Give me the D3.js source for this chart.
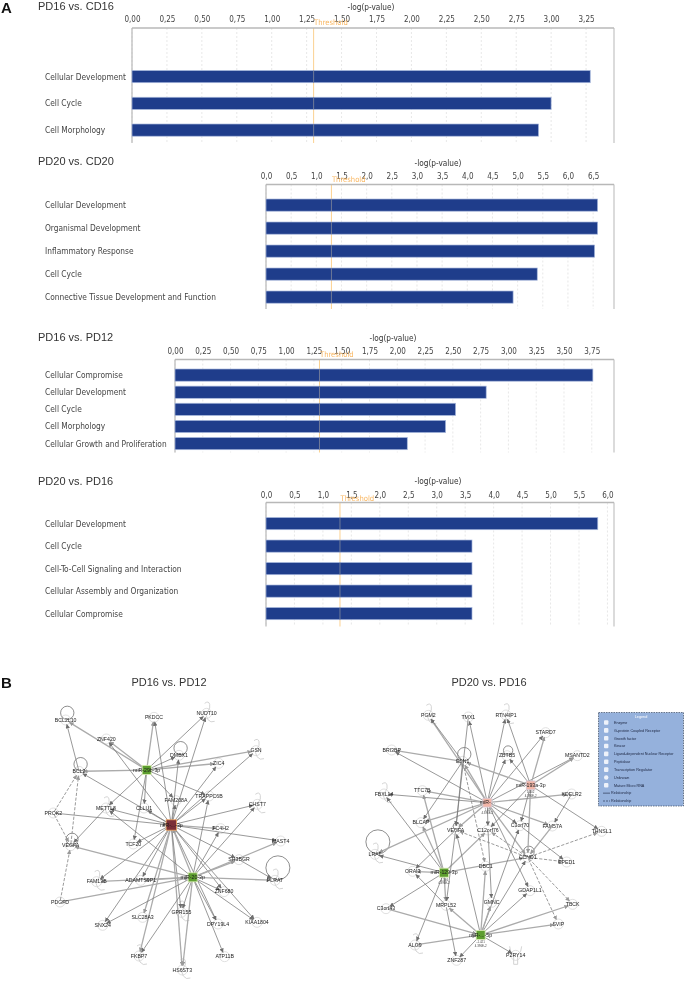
<!DOCTYPE html>
<html><head><meta charset="utf-8">
<script src="https://cdn.jsdelivr.net/npm/d3@7/dist/d3.min.js"></script>
<style>html,body{margin:0;padding:0;background:#fff}svg{display:block}text{font-family:"Liberation Sans",Arial,sans-serif}.tah{font-family:"DejaVu Sans Condensed","DejaVu Sans",sans-serif;font-stretch:condensed}</style>
</head><body><svg id="c" width="685" height="981"></svg>
<script>
// ---- bar chart data ----
const titles=["PD16 vs. CD16","PD20 vs. CD20","PD16 vs. PD12","PD20 vs. PD16"];
const cats1=["Cellular Development","Cell Cycle","Cell Morphology"];
const vals1=[3.28,3.0,2.91];
const cats2=["Cellular Development","Organismal Development","Inflammatory Response","Cell Cycle","Connective Tissue Development and Function"];
const vals2=[6.59,6.59,6.53,5.39,4.91];
const cats3=["Cellular Compromise","Cellular Development","Cell Cycle","Cell Morphology","Cellular Growth and Proliferation"];
const vals3=[3.76,2.80,2.525,2.435,2.09];
const cats4=["Cellular Development","Cell Cycle","Cell-To-Cell Signaling and Interaction","Cellular Assembly and Organization","Cellular Compromise"];
const vals4=[5.83,3.62,3.62,3.62,3.62];
const ticks1=d3.range(0,3.26,0.25), ticks2=d3.range(0,6.6,0.5), ticks3=d3.range(0,3.76,0.25), ticks4=d3.range(0,6.1,0.5);
const threshold=1.3;
// ---- network data (positions in traced layout units) ----
const net1Nodes=[["G1","miR-29b-3p",440,300,"g"],["R","miR-...-3p",514,465,"r"],["G2","miR-20-3p",578,622,"g"],
["BCL2L10","BCL2L10",197,150],["PKDCC","PKDCC",462,142],["NUDT10","NUDT10",620,130,"e"],["ZNF420","ZNF420",319,207],["DMBX1","DMBX1",537,256],["GSN","GSN",768,242,"e"],["ZIC4","ZIC4",656,280],["BCL2","BCL2",237,304],["FAM208A","FAM208A",528,392],["TRAPPC6B","TRAPPC6B",627,378],["METTL8","METTL8",318,414,"e"],["CLLU1","CLLU1",432,414],["PROK2","PROK2",160,429],["CHST7","CHST7",772,403,"e"],["PC4H2","FC4H2",662,476],["MAST4","MAST4",842,513],["TCF20","TCF20",400,522],["VEGFA","VEGFA",212,527],["SH3BGR","SH3BGR",717,569],["FAM13B","FAM13B",290,635,"e"],["ADAMTS","ADAMTS9P1",422,631],["PLRAT","PLRAT",825,631,"e"],["ZNF680","ZNF680",672,665],["PDGFD","PDGFD",180,696],["GPR155","GPR155",544,727,"e"],["SLC28A3","SLC28A3",428,742],["SNX24","SNX24",308,766],["DPY19L4","DPY19L4",654,762],["KIAA1804","KIAA1804",771,757],["FKBP7","FKBP7",417,858,"e"],["ATP11B","ATP11B",674,860],["HS6ST3","HS6ST3",547,900,"e"]];
const net1Solid=[["G1","BCL2L10",1],["G1","ZNF420",1],["G1","NUDT10",0],["G1","PKDCC",1],["G1","DMBX1",0],["G1","GSN",1],["G1","ZIC4",1],["G1","BCL2",1],["G1","FAM208A",0],["G1","TRAPPC6B",0],["G1","METTL8",0],["G1","CLLU1",0],["G1","TCF20",0],
["R","PKDCC",0],["R","ZNF420",0],["R","NUDT10",0],["R","FAM208A",0],["R","DMBX1",0],["R","ZIC4",0],["R","GSN",0],["R","TRAPPC6B",0],["R","CHST7",0],["R","PC4H2",1],["R","MAST4",0],["R","SH3BGR",0],["R","ZNF680",0],["R","KIAA1804",0],["R","DPY19L4",0],["R","HS6ST3",1],["R","GPR155",0],["R","SLC28A3",1],["R","SNX24",0],["R","FKBP7",1],["R","FAM13B",0],["R","ADAMTS",0],["R","TCF20",0],["R","CLLU1",0],["PROK2","R",0],["R","BCL2",0],["R","METTL8",0],
["G2","CHST7",0],["G2","PC4H2",0],["G2","MAST4",1],["G2","TRAPPC6B",0],["G2","VEGFA",1],["G2","METTL8",0],["PDGFD","G2",1],["G2","FAM13B",1],["G2","ADAMTS",1],["G2","PLRAT",1],["G2","SH3BGR",1],["G2","ZNF680",0],["G2","KIAA1804",0],["G2","ATP11B",0],["G2","DPY19L4",0],["G2","HS6ST3",1],["G2","GPR155",0],["G2","FKBP7",0],["G2","SNX24",0],["G2","R",1],["SH3BGR","PLRAT",0],
["BCL2","BCL2L10",0],["METTL8","VEGFA",0]];
const net1Dashed=[["PROK2","BCL2"],["PROK2","VEGFA"],["VEGFA","BCL2"],["PDGFD","VEGFA"]];
const net1Loops=[["BCL2L10",20],["DMBX1",20],["BCL2",20],["VEGFA",18],["PLRAT",36]];

const net2Nodes=[["P","miR-...",442,398,"p"],["Q","miR-193a-3p",572,346,"p"],["G3","miR-129-3p",312,608,"g"],["G4","miR-...-5p",422,795,"g"],
["PGM2","PGM2",265,136,"e"],["TMX1","TMX1",385,141],["RTN4IP1","RTN4IP1",498,135,"e"],["STARD7","STARD7",617,188],["BRI3BP","BRI3BP",155,240],["ESN1","ESN1",368,274],["ZBTB5","ZBTB5",501,257],["MSANTD2","MSANTD2",712,257],["KDELR2","KDELR2",695,372],["FBXL14","FBXL14",132,372,"e"],["TTC7B","TTC7B",247,362],["BLCAP","BLCAP",243,458],["VEGFA","VEGFA",347,480],["C12orf76","C12orf76",444,480],["C3orf70","C3orf70",540,467],["FAM57A","FAM57A",637,468],["THNSL1","THNSL1",785,484],["LRAT","LRAT",105,553,"e"],["CCND1","CCND1",563,562],["EPED1","EPED1",680,576],["ORAI3","ORAI3",218,604],["DBC1","DBC1",437,589],["GMNC","GMNC",455,697],["GDAP1L1","GDAP1L1",570,662],["TBCK","TBCK",698,703],["MRPL52","MRPL52",318,706],["C3orf43","C3orf43",138,716],["SVIP","SVIP",655,762],["ALG9","ALG9",225,825,"e"],["ZNF287","ZNF287",350,871],["P2RY14","P2RY14",527,856,"y"]];
const net2Solid=[["P","PGM2",1],["P","TMX1",0],["P","RTN4IP1",0],["P","STARD7",0],["P","BRI3BP",0],["P","ESN1",1],["P","ZBTB5",0],["P","MSANTD2",0],["P","KDELR2",1],["P","FBXL14",0],["P","TTC7B",1],["P","BLCAP",1],["P","VEGFA",1],["P","C12orf76",0],["P","C3orf70",0],["P","FAM57A",1],["P","LRAT",1],["P","CCND1",1],["P","GDAP1L1",0],
["Q","RTN4IP1",0],["Q","STARD7",1],["Q","ZBTB5",0],["Q","MSANTD2",1],["Q","ESN1",1],["Q","THNSL1",0],["Q","C12orf76",0],["Q","C3orf70",0],["Q","CCND1",1],
["G3","FBXL14",0],["G3","TTC7B",1],["G3","BLCAP",1],["G3","LRAT",0],["G3","ORAI3",1],["G3","C12orf76",1],["G3","C3orf43",0],["G3","ALG9",0],["G3","CCND1",1],["G3","MRPL52",1],
["G4","MRPL52",1],["G4","VEGFA",0],["G4","DBC1",1],["G4","C3orf70",0],["G4","GMNC",1],["G4","GDAP1L1",0],["G4","TBCK",1],["G4","SVIP",1],["C3orf43","G4",1],["ALG9","G4",1],["G4","ZNF287",0],["G4","P2RY14",0],["G4","CCND1",0],
["ESN1","PGM2",0],["ESN1","BRI3BP",1],["ESN1","VEGFA",0],["ESN1","BLCAP",0],["TMX1","VEGFA",0],["KDELR2","FAM57A",0],["VEGFA","ORAI3",0],["MRPL52","ORAI3",0],["MRPL52","ZNF287",0],["C12orf76","GMNC",0],["FAM57A","CCND1",1],["C3orf70","EPED1",0],["VEGFA","MRPL52",0]];
const net2Dashed=[["CCND1","THNSL1"],["CCND1","EPED1"],["CCND1","TBCK"],["CCND1","SVIP"],["ESN1","DBC1"],["CCND1","VEGFA"],["CCND1","C12orf76"]];
const net2Loops=[["ESN1",20],["ZBTB5",14],["LRAT",36],["CCND1",16],["VEGFA",10]];
const net2Notes=[["P","1.41","4.396E-2"],["Q","1.402","4.396E-2"],["G3","-1.346","4.396E-2"],["G4","-1.421","4.396E-2"]];
// ---- legend ----
const legendItems=["Enzyme","G-protein Coupled Receptor","Growth factor","Kinase","Ligand-dependent Nuclear Receptor","Peptidase","Transcription Regulator","Unknown","Mature Micro RNA","Relationship","Relationship"];

const svg=d3.select("#c");
const root=svg.append("g").attr("style","filter:blur(0.35px)");
root.append("text").attr("x",1).attr("y",12.5).attr("font-size",15).attr("font-weight",700).attr("fill","#111").text("A");
root.append("text").attr("x",1).attr("y",688).attr("font-size",15).attr("font-weight",700).attr("fill","#111").text("B");

function bar(o){
  const g=root.append("g");
  const x=d3.scaleLinear().domain([0,o.max]).range([o.x0,o.x1]);
  const y=d3.scalePoint().domain(o.cats).range([o.c0,o.c1]);
  g.selectAll(".gr").data(o.ticks).join("line").attr("x1",d=>x(d)).attr("x2",d=>x(d)).attr("y1",o.top).attr("y2",o.bottom).attr("stroke","#dcdcdc").attr("stroke-width",.7).attr("stroke-dasharray","2 2");
  g.append("line").attr("x1",o.x0).attr("x2",o.x0).attr("y1",o.top).attr("y2",o.bottom).attr("stroke","#bdbdbd").attr("stroke-width",1.3);
  g.append("line").attr("x1",o.x1).attr("x2",o.x1).attr("y1",o.top).attr("y2",o.bottom).attr("stroke","#c8c8c8").attr("stroke-width",1.3);
  g.append("line").attr("x1",x(threshold)).attr("x2",x(threshold)).attr("y1",o.top).attr("y2",o.bottom).attr("stroke","#fbc97e").attr("stroke-width",1).attr("opacity",.85);
  g.selectAll(".b").data(o.vals).join("rect").attr("x",o.x0).attr("y",(d,i)=>y(o.cats[i])-6).attr("width",d=>x(d)-o.x0).attr("height",12.2).attr("fill","#1f3d8b").attr("stroke","#a9b9dd").attr("stroke-width",.7);
  g.selectAll(".tb").data(o.vals).join("line").attr("x1",x(threshold)).attr("x2",x(threshold)).attr("y1",(d,i)=>y(o.cats[i])-6).attr("y2",(d,i)=>y(o.cats[i])+6.2).attr("stroke","#77809a").attr("stroke-width",.9);
  g.append("line").attr("x1",o.x0).attr("x2",o.x1).attr("y1",o.top).attr("y2",o.top).attr("stroke","#b8b8b8").attr("stroke-width",1.5);
  const ax=d3.axisTop(x).tickValues(o.ticks).tickSize(0).tickPadding(0).tickFormat(o.fmt);
  const a=g.append("g").attr("transform",`translate(0,${o.tickY})`).call(ax);
  a.select(".domain").remove();
  a.selectAll("text").attr("class","tah").attr("font-size",8).attr("fill","#444").attr("dy",0);
  g.append("text").attr("class","tah").attr("x",x(threshold)+.5).attr("y",o.tickY+3.2).attr("font-size",7.6).attr("fill","#f9b660").text("Threshold");
  g.selectAll(".c").data(o.cats).join("text").attr("class","tah").attr("x",45).attr("y",d=>y(d)+3).attr("font-size",8.3).attr("fill","#444").text(d=>d);
  g.append("text").attr("x",38).attr("y",o.titleY).attr("font-size",11).attr("fill","#333").text(o.title);
  g.append("text").attr("class","tah").attr("x",o.labelX).attr("y",o.labelY).attr("text-anchor","middle").attr("font-size",8.2).attr("fill","#333").text("-log(p-value)");
}
const f2=d=>d3.format(".2f")(d).replace(".",","), f1=d=>d3.format(".1f")(d).replace(".",",");
bar({title:titles[0],cats:cats1,vals:vals1,ticks:ticks1,fmt:f2,max:3.45,x0:132,x1:614,top:28,bottom:143,c0:76.5,c1:130,tickY:22,titleY:10,labelX:371,labelY:10});
bar({title:titles[1],cats:cats2,vals:vals2,ticks:ticks2,fmt:f1,max:6.915,x0:266,x1:614,top:184.5,bottom:309,c0:205,c1:297,tickY:179,titleY:165,labelX:438,labelY:166});
bar({title:titles[2],cats:cats3,vals:vals3,ticks:ticks3,fmt:f2,max:3.95,x0:175,x1:614,top:359.5,bottom:452.5,c0:375,c1:443.5,tickY:354,titleY:341,labelX:393,labelY:341});
bar({title:titles[3],cats:cats4,vals:vals4,ticks:ticks4,fmt:f1,max:6.115,x0:266,x1:614,top:502.5,bottom:626.5,c0:523.5,c1:613.5,tickY:498,titleY:485,labelX:438,labelY:484});

// ---- networks ----
const defs=svg.append("defs");
[["ad","#6e6e6e"],["al","#999"]].forEach(([id,c])=>defs.append("marker").attr("id",id).attr("viewBox","0 0 6 6").attr("refX",5.5).attr("refY",3).attr("markerWidth",4.4).attr("markerHeight",4.4).attr("orient","auto").attr("markerUnits","userSpaceOnUse").append("path").attr("d","M0,0L6,3L0,6z").attr("fill",c));
function net(ox,oy,nodes,solid,dashed,loops,notes){
  const sx=d3.scaleLinear().domain([0,3]).range([ox,ox+1]), sy=d3.scaleLinear().domain([0,3]).range([oy,oy+1]);
  const P=new Map(nodes.map(n=>[n[0],{x:sx(n[2]),y:sy(n[3]),lab:n[1],t:n[4]}]));
  const g=root.append("g");
  const trim=(a,b)=>{const dx=b.x-a.x,dy=b.y-a.y,l=Math.hypot(dx,dy)||1;return [a.x+dx/l*2,a.y+dy/l*2,b.x-dx/l*4.5,b.y-dy/l*4.5];};
  const blobs=g.selectAll(".n").data([...P.values()]).join("g");
  blobs.filter(d=>!"grp".includes(d.t||"z")).append("circle").attr("cx",d=>d.x).attr("cy",d=>d.y).attr("r",5).attr("fill","#fff").attr("stroke","#d8d8d8").attr("stroke-width",.8);
  blobs.filter(d=>d.t==="e").append("path").attr("d",d=>`M${d.x-2},${d.y-10}q4,-3 5,1q1,4 -2,7q-3,4 0,8q3,4 7,2`).attr("fill","none").attr("stroke","#cfcfcf").attr("stroke-width",.9);
  blobs.filter(d=>d.t==="y").append("path").attr("d",d=>`M${d.x-6},${d.y-9}q0,6 4,8v10h4v-10q4,-2 4,-8`).attr("fill","none").attr("stroke","#cfcfcf").attr("stroke-width",.9);
  loops.forEach(([n,d])=>{const p=P.get(n);g.append("circle").attr("cx",p.x+d*0.08).attr("cy",p.y-sy(d)+sy(0)-.5).attr("r",d/3).attr("fill","none").attr("stroke","#5f5f5f").attr("stroke-width",.7);});
  g.selectAll(".s").data(solid).join("line").each(function(d){const [a,b,c,e]=trim(P.get(d[0]),P.get(d[1]));d3.select(this).attr("x1",a).attr("y1",b).attr("x2",c).attr("y2",e);})
   .attr("stroke",d=>d[2]?"#ababab":"#777").attr("stroke-width",d=>d[2]?1.3:.75).attr("marker-end",d=>d[2]?"url(#al)":"url(#ad)");
  g.selectAll(".d").data(dashed).join("line").each(function(d){const [a,b,c,e]=trim(P.get(d[0]),P.get(d[1]));d3.select(this).attr("x1",a).attr("y1",b).attr("x2",c).attr("y2",e);})
   .attr("stroke","#8f8f8f").attr("stroke-width",.9).attr("stroke-dasharray","3.2 1.6").attr("marker-end","url(#al)");
  const col={g:"#5d9e2f",r:"#7b3038",p:"#f2b6a8"}, rim={g:"#dbeeb5",r:"#f0a55f",p:"#d9c9d6"}, half={g:4.5,r:5.2,p:4.4};
  g.selectAll(".q").data([...P.values()].filter(d=>"grp".includes(d.t||"z"))).join("rect").attr("x",d=>d.x-half[d.t]).attr("y",d=>d.y-half[d.t]).attr("width",d=>2*half[d.t]).attr("height",d=>2*half[d.t]).attr("fill",d=>col[d.t]).attr("stroke",d=>rim[d.t]).attr("stroke-width",.8);
  g.selectAll(".l").data([...P.values()]).join("text").attr("x",d=>d.x).attr("y",d=>d.y+1.8).attr("text-anchor","middle").attr("font-size",5.2).attr("fill","#1a1a1a").text(d=>d.lab);
  (notes||[]).forEach(([n,a,b])=>{const p=P.get(n);[a,b].forEach((t,i)=>g.append("text").attr("x",p.x).attr("y",p.y+8+i*3.6).attr("text-anchor","middle").attr("font-size",2.9).attr("fill","#444").text(t));});
}
net(0,670,net1Nodes,net1Solid,net1Dashed,net1Loops);
net(340,670,net2Nodes,net2Solid,net2Dashed,net2Loops,net2Notes);
root.append("text").attr("x",169).attr("y",685.5).attr("text-anchor","middle").attr("font-size",11).attr("fill","#333").text("PD16 vs. PD12");
root.append("text").attr("x",489).attr("y",685.5).attr("text-anchor","middle").attr("font-size",11).attr("fill","#333").text("PD20 vs. PD16");

// ---- legend box ----
const lg=root.append("g");
lg.append("rect").attr("x",598.5).attr("y",712.5).attr("width",85).attr("height",93.5).attr("fill","#95b1dc").attr("stroke","#3d4a63").attr("stroke-width",.7).attr("stroke-dasharray","1.5 1");
lg.append("text").attr("x",641).attr("y",717.5).attr("text-anchor","middle").attr("font-size",3.8).attr("fill","#fff").text("Legend");
const ly=d3.scalePoint().domain(d3.range(legendItems.length)).range([722.5,801]);
legendItems.forEach((t,i)=>{
  const y=ly(i);
  lg.append("text").attr("x",i<9?614:611).attr("y",y+1.3).attr("font-size",3.7).attr("fill","#1c2540").text(t);
  if(i<9) lg.append("rect").attr("x",604).attr("y",y-2.3).attr("width",4.4).attr("height",4.6).attr("rx",i===7?2.3:1).attr("fill","#eef2fa");
  else lg.append("line").attr("x1",603).attr("x2",610).attr("y1",y).attr("y2",y).attr("stroke","#1c2540").attr("stroke-width",.6).attr("stroke-dasharray",i===10?"2 1":null);
});
</script></body></html>
